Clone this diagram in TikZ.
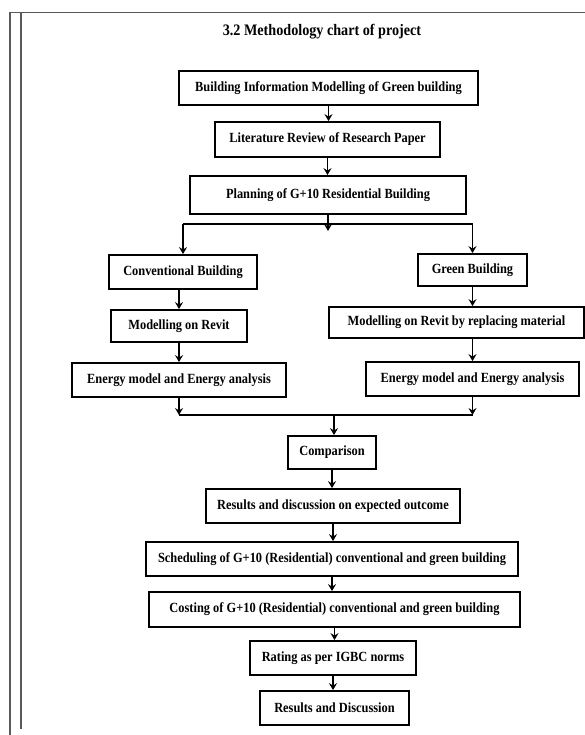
\documentclass[tikz,border=0pt]{standalone}
\usepackage{fontspec}
\setmainfont{Liberation Serif}[FakeStretch=0.885]
\usepackage{tikz}
\usetikzlibrary{arrows.meta}
\usetikzlibrary{calc}
\tikzstyle{blk}=[draw,line width=1.8pt,fill=white,inner sep=0pt,font=\fontsize{14}{16}\selectfont\bfseries]
\tikzstyle{arr}=[line width=1.6pt,-{Stealth[length=7pt,width=8pt,inset=2.5pt]}]
\tikzstyle{frm}=[line width=1.1pt,black!65]

\begin{document}
\begin{tikzpicture}[x=1pt,y=-1pt]
	\useasboundingbox (0,0) rectangle (585,735);
	\draw[frm] (10,735) -- (10,12.7) -- (585,12.7);
	\draw[frm] (21,729) -- (21,12.7);
	\node (ttl) at (322,32) {\fontsize{16}{18}\selectfont\bfseries 3.2 Methodology chart of project};
	\node[blk,minimum width=299pt,minimum height=34pt] (bim) at (328.5,88) {Building Information Modelling of Green building};
	\node[blk,minimum width=225pt,minimum height=35pt] (lit) at (327.5,139.5) {Literature Review of Research Paper};
	\node[blk,minimum width=276pt,minimum height=38pt] (plan) at (328,195) {Planning of G+10 Residential Building};
	\node[blk,minimum width=148pt,minimum height=34pt] (conv) at (183,272) {Conventional Building};
	\node[blk,minimum width=109pt,minimum height=32pt] (green) at (472.5,270) {Green Building};
	\node[blk,minimum width=136pt,minimum height=32pt] (revC) at (179,326) {Modelling on Revit};
	\node[blk,minimum width=255pt,minimum height=31pt] (revG) at (456.5,322.5) {Modelling on Revit by replacing material};
	\node[blk,minimum width=214pt,minimum height=34pt] (enC) at (179,380) {Energy model and Energy analysis};
	\node[blk,minimum width=213pt,minimum height=34pt] (enG) at (472.5,379) {Energy model and Energy analysis};
	\node[blk,minimum width=88pt,minimum height=33pt] (cmp) at (332,452.5) {Comparison};
	\node[blk,minimum width=254pt,minimum height=34pt] (res) at (333,506) {Results and discussion on expected outcome};
	\node[blk,minimum width=372pt,minimum height=34pt] (sch) at (332,559) {Scheduling of G+10 (Residential) conventional and green building};
	\node[blk,minimum width=371pt,minimum height=35pt] (cost) at (334.5,609.5) {Costing of G+10 (Residential) conventional and green building};
	\node[blk,minimum width=166pt,minimum height=34pt] (rate) at (333,658) {Rating as per IGBC norms};
	\node[blk,minimum width=149pt,minimum height=34pt] (disc) at (334.5,708) {Results and Discussion};
	\coordinate (brk) at (328,224);
	\coordinate (brktip) at (328,231);
	\coordinate (mrg) at (334,415);
	\draw[arr] (bim.south) -- (bim.south |- lit.north);
	\draw[arr] (lit.south) -- (lit.south |- plan.north);
	\draw[arr] (plan.south) -- (brktip);
	\draw[line width=1.6pt] (brk -| conv.north) -- (brk -| green.north);
	\draw[arr] (brk -| conv.north) -- (conv.north);
	\draw[arr] (brk -| green.north) -- (green.north);
	\draw[arr] (revC.north |- conv.south) -- (revC.north);
	\draw[arr] (revC.south) -- (enC.north);
	\draw[arr] (green.south) -- (green.south |- revG.north);
	\draw[arr] (green.south |- revG.south) -- (enG.north);
	\draw[arr] (enC.south) -- (enC.south |- mrg);
	\draw[arr] (enG.south) -- (enG.south |- mrg);
	\draw[line width=1.6pt] (enC.south |- mrg) -- (enG.south |- mrg);
	\draw[arr] (mrg) -- (mrg |- cmp.north);
	\draw[arr] (cmp.south) -- (cmp.south |- res.north);
	\draw[arr] (res.south) -- (res.south |- sch.north);
	\draw[arr] (sch.south) -- (sch.south |- cost.north);
	\draw[arr] (cost.south) -- (cost.south |- rate.north);
	\draw[arr] (rate.south) -- (rate.south |- disc.north);
\end{tikzpicture}
\end{document}
